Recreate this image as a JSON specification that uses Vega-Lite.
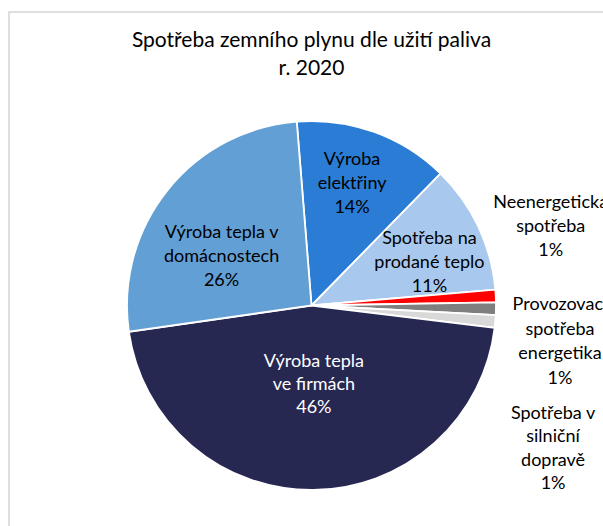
{
  "$schema": "https://vega.github.io/schema/vega-lite/v6.json",
  "width": 605,
  "height": 587,
  "autosize": {"type": "none"},
  "padding": {"left": 9, "top": 12, "right": 0, "bottom": 0},
  "background": "white",
  "config": {"view": {"stroke": "#d4d4d4", "strokeWidth": 1.5}},
  "title": {
    "text": ["Spotřeba zemního plynu dle užití paliva", "r. 2020"],
    "font": "Lato",
    "fontSize": 21,
    "fontWeight": "normal",
    "color": "#000000",
    "lineHeight": 28,
    "anchor": "middle",
    "offset": -98
  },
  "data": {
    "values": [
      {"order": 1, "cat": "Výroba elektřiny", "value": 13.6, "label": "Výroba\nelektřiny\n14%"},
      {"order": 2, "cat": "Spotřeba na prodané teplo", "value": 11.3, "label": "Spotřeba na\nprodané teplo\n11%"},
      {"order": 3, "cat": "Neenergetická spotřeba", "value": 1.1, "label": "Neenergetická\nspotřeba\n1%"},
      {"order": 4, "cat": "Provozovací spotřeba energetika", "value": 1.1, "label": "Provozovací\nspotřeba\nenergetika\n1%"},
      {"order": 5, "cat": "Spotřeba v silniční dopravě", "value": 1.1, "label": "Spotřeba v\nsilniční\ndopravě\n1%"},
      {"order": 6, "cat": "Výroba tepla ve firmách", "value": 45.8, "label": "Výroba tepla\nve firmách\n46%"},
      {"order": 7, "cat": "Výroba tepla v domácnostech", "value": 26.0, "label": "Výroba tepla v\ndomácnostech\n26%"}
    ]
  },
  "encoding": {
    "theta": {"field": "value", "type": "quantitative", "stack": true, "scale": {"domain": [0, 100], "range": [-0.08, 6.20319]}},
    "order": {"field": "order", "type": "quantitative"}
  },
  "layer": [
    {
      "mark": {"type": "point", "opacity": 0},
      "encoding": {
        "theta": null,
        "x": {"field": "order", "type": "quantitative", "axis": null},
        "y": {"field": "value", "type": "quantitative", "axis": null}
      }
    },
    {
      "mark": {"type": "arc", "radius": 184.5, "stroke": "white", "strokeWidth": 1.8},
      "encoding": {
        "color": {
          "field": "cat",
          "type": "nominal",
          "scale": {
            "domain": ["Výroba elektřiny", "Spotřeba na prodané teplo", "Neenergetická spotřeba", "Provozovací spotřeba energetika", "Spotřeba v silniční dopravě", "Výroba tepla ve firmách", "Výroba tepla v domácnostech"],
            "range": ["#2b7cd4", "#a9c8ee", "#ff0000", "#7f7f7f", "#d9d9d9", "#272852", "#629fd4"]
          },
          "legend": null
        }
      }
    },
    {
      "mark": {"type": "text", "radius": 128, "dx": -3, "dy": -25, "font": "Lato", "fontSize": 18, "lineBreak": "\n", "lineHeight": 24, "align": "center", "baseline": "middle", "fill": "#000000"},
      "encoding": {"text": {"field": "label", "type": "nominal", "condition": {"test": "datum.order !== 1", "value": ""}}}
    },
    {
      "mark": {"type": "text", "radius": 126, "dx": 4, "dy": -13, "font": "Lato", "fontSize": 18, "lineBreak": "\n", "lineHeight": 24, "align": "center", "baseline": "middle", "fill": "#000000"},
      "encoding": {"text": {"field": "label", "type": "nominal", "condition": {"test": "datum.order !== 2", "value": ""}}}
    },
    {
      "mark": {"type": "text", "radius": 239.5, "dy": -90.5, "font": "Lato", "fontSize": 18, "lineBreak": "\n", "lineHeight": 24, "align": "center", "baseline": "middle", "fill": "#000000"},
      "encoding": {"text": {"field": "label", "type": "nominal", "condition": {"test": "datum.order !== 3", "value": ""}}}
    },
    {
      "mark": {"type": "text", "radius": 248.5, "dy": -4.5, "font": "Lato", "fontSize": 18, "lineBreak": "\n", "lineHeight": 24.5, "align": "center", "baseline": "middle", "fill": "#000000"},
      "encoding": {"text": {"field": "label", "type": "nominal", "condition": {"test": "datum.order !== 4", "value": ""}}}
    },
    {
      "mark": {"type": "text", "radius": 242.5, "dy": 87.5, "font": "Lato", "fontSize": 18, "lineBreak": "\n", "lineHeight": 23.5, "align": "center", "baseline": "middle", "fill": "#000000"},
      "encoding": {"text": {"field": "label", "type": "nominal", "condition": {"test": "datum.order !== 5", "value": ""}}}
    },
    {
      "mark": {"type": "text", "radius": 80.5, "dx": 1.5, "dy": -24, "font": "Lato", "fontSize": 18, "lineBreak": "\n", "lineHeight": 23, "align": "center", "baseline": "middle", "fill": "#ffffff"},
      "encoding": {"text": {"field": "label", "type": "nominal", "condition": {"test": "datum.order !== 6", "value": ""}}}
    },
    {
      "mark": {"type": "text", "radius": 101, "dx": -11, "dy": -9, "font": "Lato", "fontSize": 18, "lineBreak": "\n", "lineHeight": 24, "align": "center", "baseline": "middle", "fill": "#000000"},
      "encoding": {"text": {"field": "label", "type": "nominal", "condition": {"test": "datum.order !== 7", "value": ""}}}
    }
  ]
}
